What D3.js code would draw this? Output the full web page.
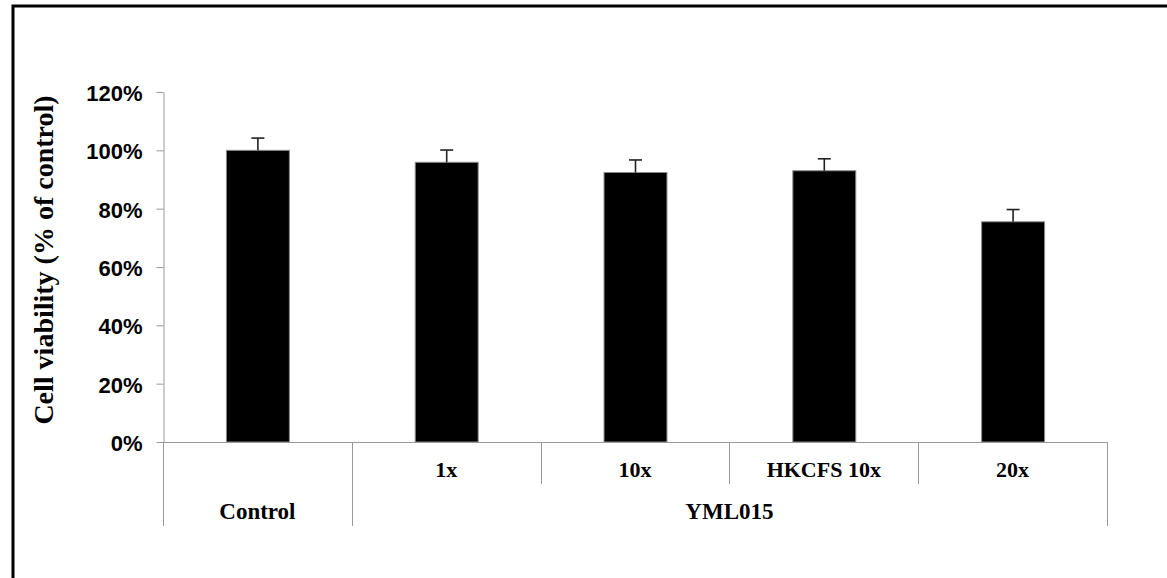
<!DOCTYPE html>
<html>
<head>
<meta charset="utf-8">
<script src="https://cdn.jsdelivr.net/npm/d3@7"></script>
<style>
  body { margin: 0; background: #fff; }
  svg { display: block; }
</style>
</head>
<body>
<div id="chart"></div>
<script>
// data
let categories = ['Control', '1x', '10x', 'HKCFS 10x', '20x'];
let innerLabels = ['', '1x', '10x', 'HKCFS 10x', '20x'];
let groups = [{name: 'Control', from: 0, to: 0}, {name: 'YML015', from: 1, to: 4}];
let viability = [100, 95.9, 92.4, 93.0, 75.5];
let errors = [4.2, 4.2, 4.3, 4.1, 4.2];
let yTicks = [0, 20, 40, 60, 80, 100, 120];

let W = 1167, H = 578;
let pLeft = 163, pRight = 1107, pTop = 92, pBottom = 442;

let svg = d3.select('#chart').append('svg')
            .attr('width', W)
            .attr('height', H);

// outer frame (only top and left edges show)
svg.append('rect')
   .attr('x', 13).attr('y', 6)
   .attr('width', 1300).attr('height', 700)
   .attr('fill', 'none')
   .attr('stroke', '#000')
   .attr('stroke-width', 3);

let x = d3.scaleBand()
          .domain(categories)
          .range([pLeft, pRight])
          .padding(0);

let y = d3.scaleLinear()
          .domain([0, 120])
          .range([pBottom, pTop]);

let axisGrey = '#9a9a9a';

// y axis
let yAxis = svg.append('g')
               .attr('transform', `translate(${pLeft + 0.5},0)`)
               .call(d3.axisLeft(y).tickValues(yTicks).tickSize(7).tickSizeOuter(0)
                       .tickFormat(d => d + '%'));
yAxis.select('.domain').attr('stroke', axisGrey);
yAxis.selectAll('.tick line').attr('stroke', axisGrey);
yAxis.selectAll('.tick text')
     .attr('x', -21)
     .attr('dy', '0.38em')
     .attr('font-family', '"Liberation Sans", Arial, sans-serif')
     .attr('font-weight', 'bold')
     .attr('font-size', 22)
     .attr('fill', '#000');

// bars
let bw = x.bandwidth() / 3;
svg.selectAll('rect.bar')
   .data(categories)
   .join('rect')
   .attr('class', 'bar')
   .attr('x', d => x(d) + bw + 0.5)
   .attr('y', (d, i) => y(viability[i]))
   .attr('width', bw)
   .attr('height', (d, i) => y(0) - y(viability[i]))
   .attr('fill', '#000')
   .attr('stroke', '#8a8a8a')
   .attr('stroke-width', 1);

// error bars (upper only)
let eb = svg.append('g').attr('stroke', '#222').attr('stroke-width', 1.6);
categories.forEach((c, i) => {
    let cx = x(c) + x.bandwidth() / 2 + 0.5;
    eb.append('line')
      .attr('x1', cx).attr('x2', cx)
      .attr('y1', y(viability[i])).attr('y2', y(viability[i] + errors[i]));
    eb.append('line')
      .attr('x1', cx - 6.5).attr('x2', cx + 6.5)
      .attr('y1', y(viability[i] + errors[i])).attr('y2', y(viability[i] + errors[i]));
});

// x axis line
svg.append('line')
   .attr('x1', pLeft).attr('x2', pRight)
   .attr('y1', pBottom + 0.5).attr('y2', pBottom + 0.5)
   .attr('stroke', axisGrey);

// category dividers: group edges run down both rows, inner ones only the first row
let edges = [];
groups.forEach(g => { edges.push(x(categories[g.from])); });
edges.push(pRight);
let innerEdges = categories.map(c => x(c)).filter(v => edges.indexOf(v) < 0);

svg.selectAll('line.outer')
   .data(edges)
   .join('line')
   .attr('class', 'outer')
   .attr('x1', d => Math.round(d) + 0.5).attr('x2', d => Math.round(d) + 0.5)
   .attr('y1', pBottom).attr('y2', 526)
   .attr('stroke', axisGrey);

svg.selectAll('line.inner')
   .data(innerEdges)
   .join('line')
   .attr('class', 'inner')
   .attr('x1', d => Math.round(d) + 0.5).attr('x2', d => Math.round(d) + 0.5)
   .attr('y1', pBottom).attr('y2', 484)
   .attr('stroke', axisGrey);

let serif = '"Liberation Serif", "Times New Roman", serif';

svg.selectAll('text.inner')
   .data(innerLabels)
   .join('text')
   .attr('class', 'inner')
   .attr('x', (d, i) => x(categories[i]) + x.bandwidth() / 2)
   .attr('y', 477)
   .attr('text-anchor', 'middle')
   .attr('font-family', serif)
   .attr('font-weight', 'bold')
   .attr('font-size', 22)
   .text(d => d);

svg.selectAll('text.group')
   .data(groups)
   .join('text')
   .attr('class', 'group')
   .attr('x', g => (x(categories[g.from]) + x(categories[g.to]) + x.bandwidth()) / 2)
   .attr('y', 519)
   .attr('text-anchor', 'middle')
   .attr('font-family', serif)
   .attr('font-weight', 'bold')
   .attr('font-size', 23)
   .text(g => g.name);

// y title
svg.append('text')
   .attr('transform', 'translate(53,260) rotate(-90)')
   .attr('text-anchor', 'middle')
   .attr('font-family', serif)
   .attr('font-weight', 'bold')
   .attr('font-size', 28)
   .text('Cell viability (% of control)');
</script>
</body>
</html>
